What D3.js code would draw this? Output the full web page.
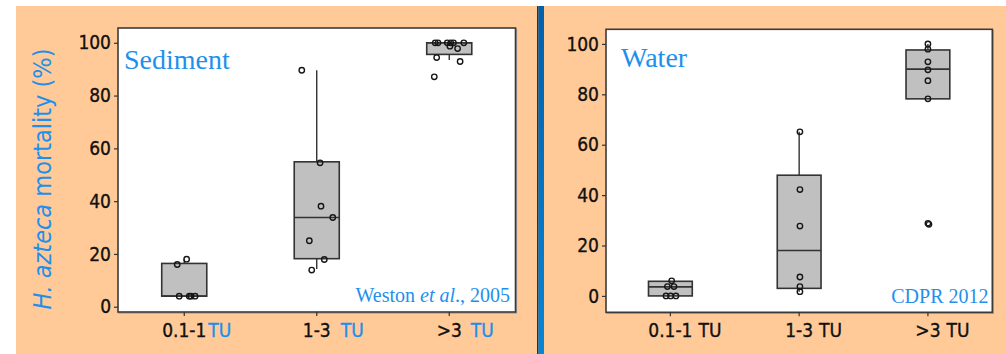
<!DOCTYPE html>
<html>
<head>
<meta charset="utf-8">
<script src="https://cdn.jsdelivr.net/npm/d3@7"></script>
<style>
  html, body { margin: 0; padding: 0; background: #fff; }
  svg { display: block; }
  .tick text { font-family: 'DejaVu Sans Condensed', 'DejaVu Sans', sans-serif; font-stretch: condensed; }
</style>
</head>
<body>
<svg id="chart" width="1006" height="354"></svg>
<script>
// Mortality categories (toxic units)
const categories = ["0.1-1", "1-3", ">3"];
const unitLabel = "TU";
const yTicks = [0, 20, 40, 60, 80, 100];

// Sediment panel (Weston et al., 2005): box statistics per category
const sedimentQ1     = [4,    18.2, 95.6];
const sedimentMedian = [4,    33.8, 100];
const sedimentQ3     = [16.4, 54.9, 100];
const sedimentLow    = [4,    14.3, 93.5];
const sedimentHigh   = [18,   89.6, 100];
// Sediment observations and their horizontal jitter (fraction of a band)
const sedimentPoints = [
  [16, 18, 4, 4, 4, 4],
  [89.6, 54.5, 38.1, 33.8, 25, 17.9, 13.9],
  [100, 100, 100, 100, 100, 100, 98.7, 97.8, 94.4, 92.9, 87.1]
];
const sedimentJitter = [
  [-0.053, 0.018, -0.038, 0.038, 0.051, 0.082],
  [-0.113, 0.025, 0.032, 0.121, -0.056, 0.057, -0.038],
  [-0.106, -0.085, -0.015, 0.011, 0.032, 0.110, 0.005, 0.063, -0.095, 0.082, -0.113]
];

// Water panel (CDPR 2012): box statistics per category
const waterQ1     = [0,   3.0,  78.2];
const waterMedian = [3.6, 18,   90];
const waterQ3     = [5.8, 47.9, 97.6];
const waterLow    = [0,   1.7,  78.2];
const waterHigh   = [6,   65.1, 100];
const waterPoints = [
  [6, 3.7, 3.7, 0, 0, 0],
  [65.1, 42.2, 27.7, 7.5, 3.7, 1.7],
  [100, 97.9, 92.9, 89.7, 85.4, 78.2, 28.8, 28.4]
];
const waterJitter = [
  [0.01, -0.023, 0.028, -0.034, 0.002, 0.043],
  [0.006, 0.006, 0.006, 0.006, 0.006, 0.006],
  [0, 0, 0, 0, 0, 0, 0, 0.008]
];

const BLUE = "#1e90ec";
const PEACH = "#ffca98";

const svg = d3.select("#chart");
const defs = svg.append("defs");
const grad = defs.append("linearGradient").attr("id", "divider")
  .attr("x1", 0).attr("y1", 0).attr("x2", 0).attr("y2", 1);
grad.append("stop").attr("offset", "0%").attr("stop-color", "#0060ad");
grad.append("stop").attr("offset", "100%").attr("stop-color", "#0686d8");

// Background
svg.append("rect").attr("x", 16).attr("y", 6).attr("width", 990).attr("height", 348).attr("fill", PEACH);
svg.append("rect").attr("x", 537).attr("y", 6).attr("width", 1.6).attr("height", 348).attr("fill", "#2c3340");
svg.append("rect").attr("x", 538.5).attr("y", 6).attr("width", 5.5).attr("height", 348).attr("fill", "url(#divider)");

function drawPanel(cfg) {
  const x = d3.scaleBand().domain(categories).range(cfg.xRange).padding(0);
  const y = d3.scaleLinear().domain(cfg.yDomain).range(cfg.yRange);
  const [x0, x1] = cfg.xRange;
  const [yb, yt] = cfg.yRange;
  const g = svg.append("g");

  // plot frame
  g.append("rect").attr("x", x0 + 1).attr("y", yt + 1).attr("width", x1 - x0).attr("height", yb - yt)
    .attr("fill", "none").attr("stroke", "#9a9a9a").attr("stroke-width", 1.2);
  g.append("rect").attr("x", x0).attr("y", yt).attr("width", x1 - x0).attr("height", yb - yt)
    .attr("fill", "#fff").attr("stroke", "#3a3a3a").attr("stroke-width", 1.6);

  // y axis
  const ya = g.append("g").attr("transform", `translate(${x0},0)`)
    .call(d3.axisLeft(y).tickValues(yTicks).tickSize(4).tickPadding(3).tickSizeOuter(0));
  ya.select(".domain").remove();
  ya.selectAll(".tick line").attr("stroke", "#333").attr("stroke-width", 1.2);
  ya.selectAll(".tick text").attr("font-size", 19).attr("fill", "#111")
    .attr("stroke", "#111").attr("stroke-width", 0.35);

  // x axis
  const xa = g.append("g").attr("transform", `translate(0,${yb})`)
    .call(d3.axisBottom(x).tickSize(4).tickSizeOuter(0));
  xa.select(".domain").remove();
  xa.selectAll(".tick line").attr("stroke", "#333").attr("stroke-width", 1.2);
  xa.selectAll(".tick text").each(function (d, i) {
    const t = d3.select(this);
    t.text(null).attr("y", 24.5).attr("dy", 0).attr("font-size", 19)
      .attr("text-anchor", "start").attr("fill", "#111")
      .attr("stroke", "#111").attr("stroke-width", 0.35);
    const main = t.append("tspan").text(d);
    const w = main.node().getComputedTextLength();
    t.attr("x", -w / 2);
    t.append("tspan").text(unitLabel)
      .attr("dx", cfg.unitGap[i])
      .attr("fill", cfg.unitColor).attr("stroke", cfg.unitColor);
  });

  const bw = x.bandwidth() * 0.34;
  const cx = c => x(c) + x.bandwidth() / 2;

  // whiskers
  categories.forEach((c, i) => {
    g.append("line").attr("x1", cx(c)).attr("x2", cx(c))
      .attr("y1", y(cfg.q3[i])).attr("y2", y(cfg.high[i]))
      .attr("stroke", "#222").attr("stroke-width", 1.3);
    g.append("line").attr("x1", cx(c)).attr("x2", cx(c))
      .attr("y1", y(cfg.q1[i])).attr("y2", y(cfg.low[i]))
      .attr("stroke", "#222").attr("stroke-width", 1.3);
  });

  // boxes
  g.selectAll("rect.box").data(categories).join("rect").attr("class", "box")
    .attr("x", c => cx(c) - bw / 2).attr("width", bw)
    .attr("y", (c, i) => y(cfg.q3[i]))
    .attr("height", (c, i) => Math.max(0.5, y(cfg.q1[i]) - y(cfg.q3[i])))
    .attr("fill", "#c0c0c0").attr("stroke", "#333").attr("stroke-width", 1.6);

  g.selectAll("line.median").data(categories).join("line").attr("class", "median")
    .attr("x1", c => cx(c) - bw / 2).attr("x2", c => cx(c) + bw / 2)
    .attr("y1", (c, i) => y(cfg.median[i])).attr("y2", (c, i) => y(cfg.median[i]))
    .attr("stroke", "#333").attr("stroke-width", 1.6);

  // observations
  const pts = [];
  categories.forEach((c, i) => cfg.points[i].forEach((v, j) =>
    pts.push({ c, v, j: cfg.jitter[i][j] })));
  g.selectAll("circle.obs").data(pts).join("circle").attr("class", "obs")
    .attr("cx", d => cx(d.c) + d.j * x.bandwidth())
    .attr("cy", d => y(d.v))
    .attr("r", 2.7)
    .attr("fill", "none").attr("stroke", "#161616").attr("stroke-width", 1.4);

  // panel title and source
  g.append("text").attr("x", cfg.titleX).attr("y", cfg.titleY)
    .attr("font-family", "'Liberation Serif', 'Times New Roman', serif")
    .attr("font-size", 28).attr("fill", BLUE).text(cfg.title);

  const src = g.append("text").attr("x", cfg.sourceX).attr("y", cfg.sourceY)
    .attr("text-anchor", "end")
    .attr("font-family", "'Liberation Serif', 'Times New Roman', serif")
    .attr("font-size", 20).attr("fill", BLUE);
  cfg.source.forEach(part => {
    src.append("tspan").text(part.text).attr("font-style", part.italic ? "italic" : "normal");
  });
}

drawPanel({
  xRange: [118, 515.5], yDomain: [-2, 105.6], yRange: [312, 28],
  q1: sedimentQ1, median: sedimentMedian, q3: sedimentQ3, low: sedimentLow, high: sedimentHigh,
  points: sedimentPoints, jitter: sedimentJitter,
  unitGap: [2, 10, 9], unitColor: BLUE,
  title: "Sediment", titleX: 124, titleY: 69,
  source: [{ text: "Weston " }, { text: "et al", italic: true }, { text: "., 2005" }],
  sourceX: 510, sourceY: 301.5
});

drawPanel({
  xRange: [606, 992.3], yDomain: [-6.5, 105.8], yRange: [312.3, 29.3],
  q1: waterQ1, median: waterMedian, q3: waterQ3, low: waterLow, high: waterHigh,
  points: waterPoints, jitter: waterJitter,
  unitGap: [6, 6, 6], unitColor: "#111",
  title: "Water", titleX: 621, titleY: 66.5,
  source: [{ text: "CDPR 2012" }],
  sourceX: 988.5, sourceY: 303
});

// y axis title
const yt = svg.append("text")
  .attr("transform", "translate(51,179) rotate(-90)")
  .attr("text-anchor", "middle")
  .attr("font-family", "'DejaVu Sans Condensed', 'DejaVu Sans', sans-serif")
  .attr("font-stretch", "condensed")
  .attr("font-size", 25).attr("fill", BLUE);
yt.append("tspan").attr("font-style", "italic").text("H. azteca");
yt.append("tspan").text(" mortality (%)");
</script>
</body>
</html>
